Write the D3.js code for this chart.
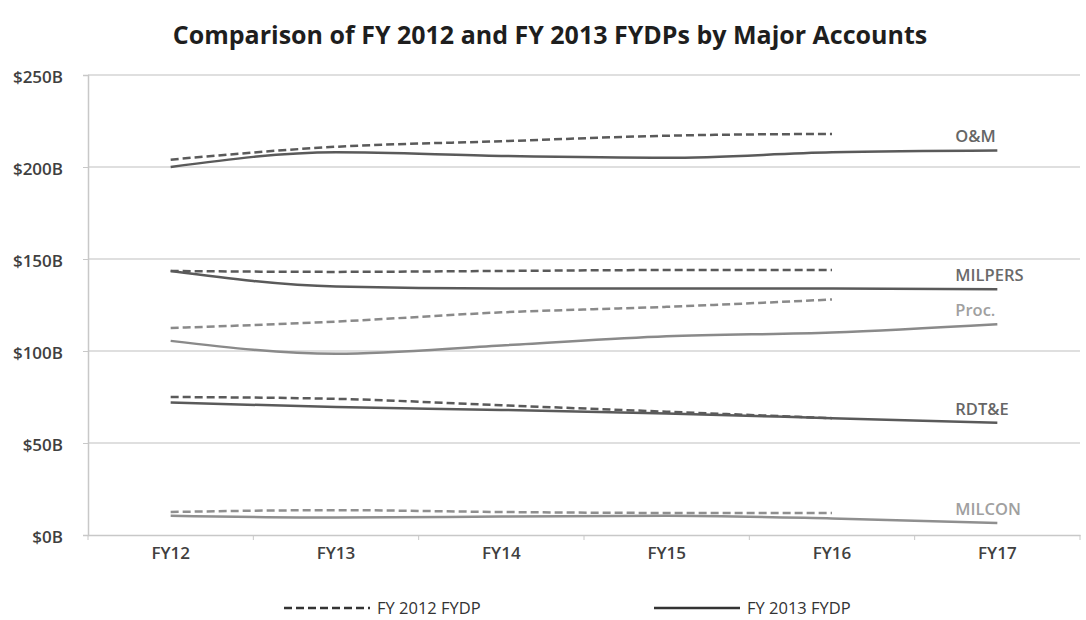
<!DOCTYPE html>
<html lang="en">
<head>
    <meta charset="UTF-8">
    <title>Comparison of FY 2012 and FY 2013 FYDPs by Major Accounts</title>
    <script src="https://d3js.org/d3.v7.min.js"></script>
    <style>
        body { margin: 0; background: #fff; }
        svg { display: block; font-family: "Open Sans", "Noto Sans", sans-serif; }
        .tick text { font-family: "Open Sans", "Noto Sans", sans-serif; font-size: 16px; font-weight: 600; fill: #404040; }
    </style>
</head>
<body>
    <svg id="chart" width="1086" height="620"></svg>
    <script>
        // fiscal years on the x axis
        const years = ["FY12", "FY13", "FY14", "FY15", "FY16", "FY17"];
        const yTicks = [0, 50, 100, 150, 200, 250];

        // FY 2012 FYDP (dashed, FY12-FY16), FY 2013 FYDP (solid, FY12-FY17), $B
        const omOld = [204, 211, 214, 217, 218];
        const omNew = [200, 208, 206, 205, 208, 209];
        const milpersOld = [143.5, 143, 143.5, 144, 144];
        const milpersNew = [143.5, 135, 134, 134, 134, 133.5];
        const procOld = [112.5, 116, 121, 124, 128];
        const procNew = [105.5, 98.5, 103, 108, 110, 114.5];
        const rdteOld = [75, 74, 70.5, 67, 63.5];
        const rdteNew = [72, 69.5, 68, 66, 63.5, 61];
        const milconOld = [12.5, 13.5, 12.5, 12, 12];
        const milconNew = [10.5, 9.5, 10, 10.5, 9, 6.5];

        const accounts = [
            { name: "O&M", oldV: omOld, newV: omNew, color: "#5a5a5a", text: "#666" },
            { name: "MILPERS", oldV: milpersOld, newV: milpersNew, color: "#5a5a5a", text: "#6a6a6a" },
            { name: "Proc.", oldV: procOld, newV: procNew, color: "#8a8a8a", text: "#a0a0a0" },
            { name: "RDT&E", oldV: rdteOld, newV: rdteNew, color: "#5a5a5a", text: "#666" },
            { name: "MILCON", oldV: milconOld, newV: milconNew, color: "#8f8f8f", text: "#a0a0a0" }
        ];

        const svg = d3.select("#chart");
        const margin = { top: 75, right: 6, bottom: 85, left: 88 };
        const width = 1086 - margin.left - margin.right;
        const height = 620 - margin.top - margin.bottom;

        const x = d3.scaleBand().domain(years).range([0, width]);
        const y = d3.scaleLinear().domain([0, 250]).range([height, 0]);

        svg.append("text")
            .attr("x", 550)
            .attr("y", 44)
            .attr("text-anchor", "middle")
            .style("font-size", "25px")
            .style("font-weight", "bold")
            .style("fill", "#1e1e1e")
            .text("Comparison of FY 2012 and FY 2013 FYDPs by Major Accounts");

        const g = svg.append("g").attr("transform", `translate(${margin.left},${margin.top})`);

        // gridlines
        g.append("g")
            .selectAll("line")
            .data(yTicks.filter(d => d > 0))
            .join("line")
            .attr("x1", 0)
            .attr("x2", width)
            .attr("y1", d => y(d))
            .attr("y2", d => y(d))
            .attr("stroke", "#d4d4d4")
            .attr("stroke-width", 1.5);

        const yAxis = g.append("g")
            .call(d3.axisLeft(y).tickValues(yTicks).tickSize(5).tickPadding(20)
                .tickFormat(d => "$" + d + "B"));
        yAxis.select(".domain").attr("stroke", "#c8c8c8").attr("stroke-width", 1.5);
        yAxis.selectAll(".tick line").attr("stroke", "#c8c8c8");
        yAxis.selectAll(".tick text").style("font-size", "17px").attr("dy", "0.45em");

        const xAxis = g.append("g")
            .attr("transform", `translate(0,${height})`)
            .call(d3.axisBottom(x).tickSize(0).tickPadding(12));
        xAxis.select(".domain").attr("stroke", "#c8c8c8").attr("stroke-width", 1.5);
        xAxis.selectAll(".tick text").style("font-size", "17px");
        // tick marks at band boundaries
        xAxis.append("g")
            .selectAll("line")
            .data(years)
            .join("line")
            .attr("x1", d => x(d))
            .attr("x2", d => x(d))
            .attr("y1", 0)
            .attr("y2", 5)
            .attr("stroke", "#c8c8c8");
        xAxis.append("line")
            .attr("x1", width).attr("x2", width)
            .attr("y1", 0).attr("y2", 5)
            .attr("stroke", "#c8c8c8");

        const line = d3.line()
            .x((d, i) => x(years[i]) + x.bandwidth() / 2)
            .y(d => y(d))
            .curve(d3.curveMonotoneX);

        accounts.forEach(a => {
            g.append("path")
                .datum(a.oldV)
                .attr("fill", "none")
                .attr("stroke", a.color)
                .attr("stroke-width", 2.5)
                .attr("stroke-dasharray", "8,4")
                .attr("d", line);
            g.append("path")
                .datum(a.newV)
                .attr("fill", "none")
                .attr("stroke", a.color)
                .attr("stroke-width", 2.5)
                .attr("d", line);
            g.append("text")
                .attr("x", x("FY17") + x.bandwidth() / 2 - 42)
                .attr("y", y(a.newV[5]) - 8)
                .style("font-size", "16.5px")
                .style("font-weight", 600)
                .style("fill", a.text)
                .text(a.name);
        });

        // legend
        const legend = svg.append("g").attr("transform", "translate(0,608)");
        const legendItems = [
            { label: "FY 2012 FYDP", dash: "8,4", x: 284 },
            { label: "FY 2013 FYDP", dash: null, x: 654 }
        ];
        legendItems.forEach(item => {
            legend.append("line")
                .attr("x1", item.x).attr("x2", item.x + 86)
                .attr("y1", 0).attr("y2", 0)
                .attr("stroke", "#333")
                .attr("stroke-width", 2.5)
                .attr("stroke-dasharray", item.dash);
            legend.append("text")
                .attr("x", item.x + 93)
                .attr("y", 6)
                .style("font-size", "16.5px")
                .style("fill", "#333")
                .text(item.label);
        });
    </script>
</body>
</html>
